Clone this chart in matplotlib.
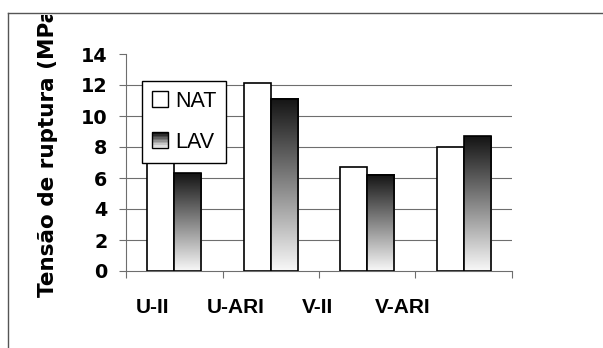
import numpy as np
import matplotlib.pyplot as plt
from matplotlib.patches import Rectangle
from matplotlib.lines import Line2D
from matplotlib.legend_handler import HandlerBase
from matplotlib.colors import LinearSegmentedColormap
from matplotlib.transforms import Bbox

categories = ["U-II", "U-ARI", "V-II", "V-ARI"]
nat = [7.8, 12.1, 6.7, 8.0]
lav = [6.3, 11.1, 6.2, 8.7]
yticks = [0, 2, 4, 6, 8, 10, 12, 14]

W, H = 603, 348
grey = "#6e6e6e"
shade = LinearSegmentedColormap.from_list("shade", ["#141414", "#f8f8f8"])


class GradientHandler(HandlerBase):
    # legend key for the shaded LAV bars: stacked bands, dark on top
    def create_artists(self, legend, orig_handle, xdescent, ydescent,
                       width, height, fontsize, trans):
        n = 10
        arts = []
        for i in range(n):
            c = shade(1 - i / (n - 1))
            arts.append(Rectangle((-xdescent, -ydescent + i * height / n), width, height / n,
                                  fc=c, ec="none", transform=trans))
        arts.append(Rectangle((-xdescent, -ydescent), width, height, fc="none",
                              ec="black", lw=1.0, transform=trans))
        return arts


fig = plt.figure(figsize=(W / 100, H / 100), dpi=100)
ax = fig.add_axes([126 / W, 1 - 271 / H, 386 / W, 217 / H])

x = np.arange(len(categories)) + 0.5
w = 0.28

ax.bar(x - w / 2, nat, w, color="white", edgecolor="black", linewidth=1.2, zorder=3)
lav_bars = ax.bar(x + w / 2, lav, w, color="none", edgecolor="black", linewidth=1.2, zorder=4)
grad = np.linspace(0, 1, 256).reshape(-1, 1)
for b in lav_bars:
    x0 = b.get_x()
    ax.imshow(grad, cmap=shade, vmin=0, vmax=1, aspect="auto", zorder=3.5,
              extent=[x0, x0 + b.get_width(), 0, b.get_height()])

for v in yticks[1:-1]:
    ax.axhline(v, color=grey, lw=0.8, zorder=1)

ax.set_xlim(0, 4)
ax.set_ylim(0, 14)

for s in ["top", "right"]:
    ax.spines[s].set_visible(False)
for s in ["left", "bottom"]:
    ax.spines[s].set_color(grey)
    ax.spines[s].set_linewidth(0.8)

ax.set_yticks(yticks)
ax.set_yticklabels([str(v) for v in yticks], fontsize=13.8, fontweight="bold", family="DejaVu Sans")
ax.tick_params(axis="y", direction="out", length=5, width=0.8, color=grey, pad=8.5)

# category labels sit left of the bar groups, as in the original
label_x = [0.27, 1.14, 1.98, 2.87]
ax.set_xticks(label_x)
ax.set_xticklabels(categories, fontsize=15, fontweight="bold", family="Liberation Sans")
ax.set_xticks(range(5), minor=True)
ax.tick_params(axis="x", which="major", length=0, pad=19.5)
ax.tick_params(axis="x", which="minor", direction="out", length=5, width=0.8, color=grey)

handles = [Rectangle((0, 0), 1, 1, fc="white", ec="black", lw=1.0),
           Rectangle((0, 0), 1, 1, fc="grey")]
leg = ax.legend(handles, ["NAT", "LAV"], loc="upper left", bbox_to_anchor=(0.041, 0.875),
                borderaxespad=0, fancybox=False, edgecolor="black", framealpha=1,
                prop=dict(family="Liberation Sans", size=15.5),
                handlelength=0.78, handleheight=0.75, handletextpad=0.33,
                labelspacing=0.93, borderpad=0.45,
                handler_map={handles[1]: GradientHandler()})
leg.get_frame().set_linewidth(1.0)
leg.set_zorder(10)

# the original axis title runs past the chart border and is cut there
yl = fig.text(48.5 / W, 1 - 297 / H, "Tensão de ruptura (MPa)", rotation=90,
              ha="center", va="bottom", fontsize=15.5, fontweight="bold", family="DejaVu Sans")
yl.set_clip_box(Bbox.from_extents(0, 0, W, H - 15))
yl.set_clip_on(True)

# chart area border (only left and top fall inside the picture)
fig.add_artist(Line2D([8 / W, 8 / W], [0, 1 - 13 / H], color="#555555", lw=1.0))
fig.add_artist(Line2D([8 / W, 1], [1 - 13 / H, 1 - 13 / H], color="#555555", lw=1.0))

fig.savefig("out.png", dpi=100)
